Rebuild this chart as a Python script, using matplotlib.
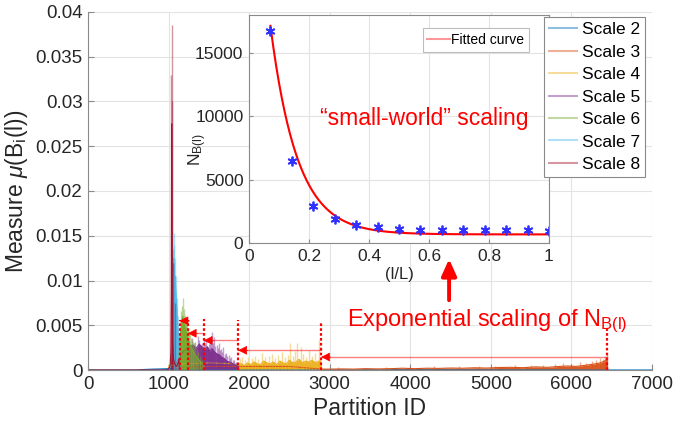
import numpy as np
import matplotlib
matplotlib.use('Agg')
import matplotlib.pyplot as plt
from matplotlib.lines import Line2D
from matplotlib.ticker import FuncFormatter, MultipleLocator

plt.rcParams['font.family'] = ['Liberation Sans', 'DejaVu Sans']
plt.rcParams['mathtext.fontset'] = 'custom'
plt.rcParams['mathtext.rm'] = 'Liberation Sans'
plt.rcParams['mathtext.it'] = 'Liberation Sans:italic'
plt.rcParams['mathtext.bf'] = 'Liberation Sans:bold'

# ---------------- data ----------------
scale_labels = ['Scale 2', 'Scale 3', 'Scale 4', 'Scale 5', 'Scale 6', 'Scale 7', 'Scale 8']
scale_colors = ['#0072BD', '#D95319', '#EDB120', '#7E2F8E', '#77AC30', '#4DBEEE', '#A2142F']

s2_ids = [0, 600, 700, 800, 900, 1000, 1100, 7000]
s2_dense = [0, 0, 0.00006, 0.0001, 0.00012, 0.00015, 0, 0]
s2_spike_ids = []
s2_spike_vals = []

s3_ids = [1000, 1500, 2000, 2500, 2893, 3000, 3150, 3300, 3450, 3600, 3750, 3900, 4050, 4200,
          4350, 4500, 4650, 4800, 4950, 5100, 5250, 5400, 5550, 5700, 5850, 5950, 6050, 6150,
          6230, 6300, 6360, 6410, 6440, 6450]
s3_dense = [0.0003, 0.0004, 0.0004, 0.0004, 0.0001, 0.0001, 0.00012, 0.0001, 0.00015, 0.00012,
            0.00015, 0.0002, 0.00015, 0.0002, 0.00018, 0.00022, 0.0002, 0.00025, 0.00022, 0.00028,
            0.0003, 0.00026, 0.00035, 0.0003, 0.0004, 0.00045, 0.0004, 0.0005, 0.0006, 0.0007,
            0.0008, 0.0010, 0.0012, 0]
s3_spike_ids = [3100, 3400, 3700, 4000, 4300, 4600, 4850, 5050, 5300, 5500, 5650, 5800, 5900,
                6000, 6100, 6180, 6250, 6310, 6350, 6390, 6420, 6435]
s3_spike_vals = [0.0003, 0.00025, 0.0003, 0.00035, 0.0004, 0.0004, 0.00045, 0.0005, 0.00055,
                 0.0006, 0.0006, 0.0007, 0.0008, 0.0007, 0.0009, 0.0008, 0.0010, 0.0011, 0.0013,
                 0.0012, 0.0016, 0.0018]

s4_ids = [1000, 1200, 1500, 1800, 1864, 1900, 1940, 1980, 2020, 2060, 2100, 2140, 2180, 2220,
          2260, 2300, 2340, 2380, 2420, 2460, 2500, 2540, 2580, 2620, 2660, 2700, 2740, 2780,
          2820, 2860, 2893, 2900]
s4_dense = [0.0005, 0.0007, 0.0008, 0.0007, 0.0006, 0.0007, 0.0005, 0.0008, 0.0006, 0.0009,
            0.0007, 0.0006, 0.0010, 0.0008, 0.0007, 0.0009, 0.0006, 0.0010, 0.0008, 0.0007,
            0.0011, 0.0008, 0.0009, 0.0012, 0.0008, 0.0010, 0.0009, 0.0011, 0.0008, 0.0010,
            0.0009, 0]
s4_spike_ids = [1880, 1910, 1950, 1990, 2030, 2075, 2110, 2160, 2200, 2240, 2284, 2320, 2360,
                2407, 2440, 2480, 2506, 2540, 2570, 2597, 2638, 2670, 2710, 2741, 2780, 2820,
                2864, 2885]
s4_spike_vals = [0.0012, 0.0014, 0.0011, 0.0015, 0.0013, 0.0016, 0.0012, 0.0019, 0.0014, 0.0016,
                 0.0018, 0.0013, 0.0017, 0.0020, 0.0015, 0.0017, 0.0030, 0.0016, 0.0021, 0.0030,
                 0.0026, 0.0018, 0.0015, 0.0022, 0.0016, 0.0019, 0.0034, 0.0014]

s5_ids = [1060, 1100, 1140, 1180, 1220, 1260, 1300, 1340, 1380, 1420, 1450, 1480, 1510, 1540,
          1570, 1600, 1630, 1660, 1690, 1720, 1750, 1780, 1810, 1840, 1864, 1870]
s5_dense = [0, 0.0008, 0.0015, 0.0020, 0.0024, 0.0026, 0.0028, 0.0024, 0.0029, 0.0025, 0.0023,
            0.0026, 0.0021, 0.0024, 0.0020, 0.0018, 0.0017, 0.0014, 0.0013, 0.0010, 0.0009,
            0.0008, 0.0006, 0.0005, 0.0004, 0]
s5_spike_ids = [1250, 1270, 1290, 1310, 1330, 1350, 1365, 1383, 1398, 1410, 1425, 1440, 1455,
                1470, 1485, 1500, 1512, 1525, 1543, 1556, 1568, 1582, 1595, 1608, 1620, 1635,
                1650, 1665, 1680, 1695, 1710, 1728, 1745, 1762, 1780, 1798, 1815, 1832, 1850]
s5_spike_vals = [0.0032, 0.0027, 0.0036, 0.0029, 0.0031, 0.0026, 0.0038, 0.0034, 0.0028, 0.0030,
                 0.0027, 0.0035, 0.0029, 0.0033, 0.0026, 0.0029, 0.0031, 0.0038, 0.0043, 0.0030,
                 0.0037, 0.0027, 0.0028, 0.0025, 0.0030, 0.0022, 0.0024, 0.0020, 0.0026, 0.0018,
                 0.0019, 0.0016, 0.0017, 0.0013, 0.0014, 0.0011, 0.0011, 0.0009, 0.0008]

s6_ids = [1080, 1100, 1120, 1135, 1145, 1155, 1165, 1175, 1185, 1195, 1205, 1215, 1225, 1235,
          1250, 1265, 1280, 1300, 1320, 1340, 1360, 1380, 1400, 1420, 1436, 1440]
s6_dense = [0, 0.0005, 0.0015, 0.0030, 0.0040, 0.0045, 0.0055, 0.0060, 0.0052, 0.0050, 0.0047,
            0.0043, 0.0040, 0.0036, 0.0032, 0.0028, 0.0025, 0.0022, 0.0018, 0.0016, 0.0013,
            0.0011, 0.0009, 0.0007, 0.0005, 0]
s6_spike_ids = [1140, 1150, 1160, 1170, 1177, 1186, 1192, 1198, 1205, 1212, 1219, 1226, 1235,
                1244, 1253, 1262, 1276, 1290, 1302, 1315, 1332, 1350, 1370, 1390, 1412]
s6_spike_vals = [0.0048, 0.0055, 0.0066, 0.0072, 0.0080, 0.0068, 0.0059, 0.0062, 0.0054, 0.0058,
                 0.0050, 0.0052, 0.0047, 0.0046, 0.0042, 0.0040, 0.0036, 0.0034, 0.0031, 0.0030,
                 0.0026, 0.0024, 0.0020, 0.0016, 0.0012]

s7_ids = [1010, 1025, 1035, 1045, 1052, 1058, 1064, 1070, 1076, 1082, 1088, 1094, 1100, 1106,
          1112, 1118, 1124, 1130, 1136, 1140]
s7_dense = [0, 0.0005, 0.0020, 0.0060, 0.0100, 0.0125, 0.0120, 0.0110, 0.0100, 0.0105, 0.0090,
            0.0080, 0.0072, 0.0060, 0.0050, 0.0040, 0.0030, 0.0020, 0.0010, 0]
s7_spike_ids = [1055, 1062, 1068, 1080, 1092, 1104, 1116, 1128]
s7_spike_vals = [0.0135, 0.0153, 0.0140, 0.0125, 0.0105, 0.0080, 0.0060, 0.0040]

s8_ids = [0, 980, 1000, 1010, 1020, 1028, 1034, 1038, 1042, 1046, 1050, 1056, 1062, 1070, 1080,
          1090, 1100, 1110, 1120, 1128, 1136]
s8_dense = [0, 0, 0.0001, 0.0002, 0.0006, 0.0020, 0.0090, 0.0275, 0.0140, 0.0060, 0.0030,
            0.0018, 0.0012, 0.0008, 0.0006, 0.0005, 0.0004, 0.0006, 0.0009, 0.0012, 0]
s8_spike_ids = [1036, 1040, 1044, 1060, 1074]
s8_spike_vals = [0.0330, 0.0385, 0.0300, 0.0120, 0.0075]

# scale boundaries (dotted lines) and arrows
dot_ids = [1136, 1238, 1436, 1864, 2893, 6440]
dot_tops = [0.0056, 0.0056, 0.0057, 0.0056, 0.0054, 0.0049]
arrow_from = [1238, 1436, 1864, 2893, 6440]
arrow_to = [1136, 1238, 1436, 1864, 2893]
arrow_y = [0.0055, 0.0041, 0.0033, 0.0022, 0.00145]

# inset data
inset_x = [1/14, 2/14, 3/14, 4/14, 5/14, 6/14, 7/14, 8/14, 9/14, 10/14, 11/14, 12/14, 13/14, 1.0]
inset_nb = [16700, 6450, 2900, 1900, 1450, 1250, 1150, 1080, 1050, 1040, 1030, 1020, 1010, 1000]
fit_a, fit_b, fit_c = 36600.0, -11.2, 700.0

# ---------------- figure ----------------
fig = plt.figure(figsize=(6.75, 4.28), dpi=100)
ax = fig.add_axes([0.1304, 0.1355, 0.8356, 0.8365])

series = [
    (s2_ids, s2_dense, s2_spike_ids, s2_spike_vals),
    (s3_ids, s3_dense, s3_spike_ids, s3_spike_vals),
    (s4_ids, s4_dense, s4_spike_ids, s4_spike_vals),
    (s5_ids, s5_dense, s5_spike_ids, s5_spike_vals),
    (s6_ids, s6_dense, s6_spike_ids, s6_spike_vals),
    (s7_ids, s7_dense, s7_spike_ids, s7_spike_vals),
    (s8_ids, s8_dense, s8_spike_ids, s8_spike_vals),
]
for (ids, dense, sp_ids, sp_vals), col in zip(series, scale_colors):
    if len(sp_ids):
        ax.vlines(sp_ids, 0, sp_vals, colors=col, alpha=0.45, lw=1.0)
    ax.fill_between(ids, 0, dense, color=col, alpha=0.95, lw=0)
    ax.plot(ids, dense, color=col, lw=0.8)

ax.vlines(dot_ids, 0, dot_tops, colors='red', linestyles=(0, (1.2, 1.0)), lw=1.6, zorder=5)
for x0, x1, yy in zip(arrow_from, arrow_to, arrow_y):
    ax.plot([x0, x1], [yy, yy], color='red', alpha=0.5, lw=1.0, zorder=5)
    ax.annotate('', xy=(x1, yy), xytext=(7, 0), textcoords='offset points',
                arrowprops=dict(arrowstyle='-|>,head_length=0.55,head_width=0.28',
                                color='red', lw=0.5, shrinkA=0, shrinkB=0), zorder=6)

ax.set_xlim(0, 7000)
ax.set_ylim(0, 0.04)
ax.xaxis.set_major_locator(MultipleLocator(1000))
ax.yaxis.set_major_locator(MultipleLocator(0.005))
ax.yaxis.set_major_formatter(FuncFormatter(lambda v, p: '%g' % round(v, 4)))
ax.grid(True, color='#e3e3e3', lw=0.8)
ax.set_axisbelow(True)
for s in ['top', 'right']:
    ax.spines[s].set_visible(False)
for s in ['left', 'bottom']:
    ax.spines[s].set_color('#8a8a8a')
    ax.spines[s].set_linewidth(0.8)
ax.tick_params(direction='in', length=4, color='#8a8a8a', labelsize=13.5,
               labelcolor='#262626', pad=4)
ax.set_xlabel('Partition ID', fontsize=16.5, color='#262626', labelpad=3)
ax.set_ylabel(r'Measure $\mathit{\mu}$(B$_{\mathrm{i}}$(l))', fontsize=16.5,
              color='#262626', labelpad=4)

ax.text(4950, 0.0054, r'Exponential scaling of N$_{\mathrm{B(l)}}$', color='red',
        fontsize=17, ha='center', va='center')
ax.annotate('', xy=(4481, 0.0124), xytext=(4481, 0.0078),
            arrowprops=dict(arrowstyle='-|>,head_length=1.0,head_width=0.45',
                            color='red', lw=2.8, shrinkA=0, shrinkB=0),
            annotation_clip=False)

# ---------------- inset ----------------
axin = fig.add_axes([0.3689, 0.4316, 0.4444, 0.5334])
xs = np.linspace(inset_x[0], 1.0, 300)
axin.plot(xs, fit_a * np.exp(fit_b * xs) + fit_c, color='red', lw=1.5)
axin.plot(inset_x, inset_nb, linestyle='none', marker=(6, 2, 0), color='#3030ff', ms=7,
          markeredgewidth=1.3)
axin.set_xlim(0, 1)
axin.set_ylim(0, 18000)
axin.set_xticks([0, 0.2, 0.4, 0.6, 0.8, 1])
axin.set_xticklabels(['0', '0.2', '0.4', '0.6', '0.8', '1'])
axin.set_yticks([0, 5000, 10000, 15000])
axin.grid(True, color='#e3e3e3', lw=0.8)
axin.set_axisbelow(True)
for s in axin.spines.values():
    s.set_color('#8a8a8a')
    s.set_linewidth(0.8)
axin.tick_params(direction='in', length=3, color='#8a8a8a', labelsize=12.5,
                 labelcolor='#262626', pad=4)
axin.set_xlabel('(l/L)', fontsize=12, color='#262626', labelpad=2)
axin.set_ylabel(r'N$_{\mathrm{B(l)}}$', fontsize=12.5, color='#262626')
axin.yaxis.set_label_coords(-0.135, 0.41)
lh = [Line2D([], [], color='red', alpha=0.4, lw=1.5)]
lg2 = axin.legend(lh, ['Fitted curve'], loc='upper right', bbox_to_anchor=(0.933, 0.943),
                  borderaxespad=0, fontsize=10, fancybox=False, edgecolor='#bdbdbd',
                  framealpha=1, handlelength=1.6, handletextpad=0.1, borderpad=0.35)
lg2.get_frame().set_linewidth(0.8)
axin.text(0.583, 9800, '\u201csmall-world\u201d scaling', color='red', fontsize=16.5,
          ha='center', va='center')

# main legend drawn at figure level so it sits above the inset
handles = [Line2D([], [], color=c, alpha=0.45, lw=1.5) for c in scale_colors]
leg = fig.legend(handles, scale_labels, loc='upper right', bbox_to_anchor=(0.9556, 0.9603),
                 borderaxespad=0, fontsize=12.5, fancybox=False, edgecolor='#8a8a8a',
                 framealpha=1, handlelength=1.6, handletextpad=0.25, labelspacing=0.42,
                 borderpad=0.3)
leg.get_frame().set_linewidth(0.8)

fig.savefig('out.png', dpi=100)
